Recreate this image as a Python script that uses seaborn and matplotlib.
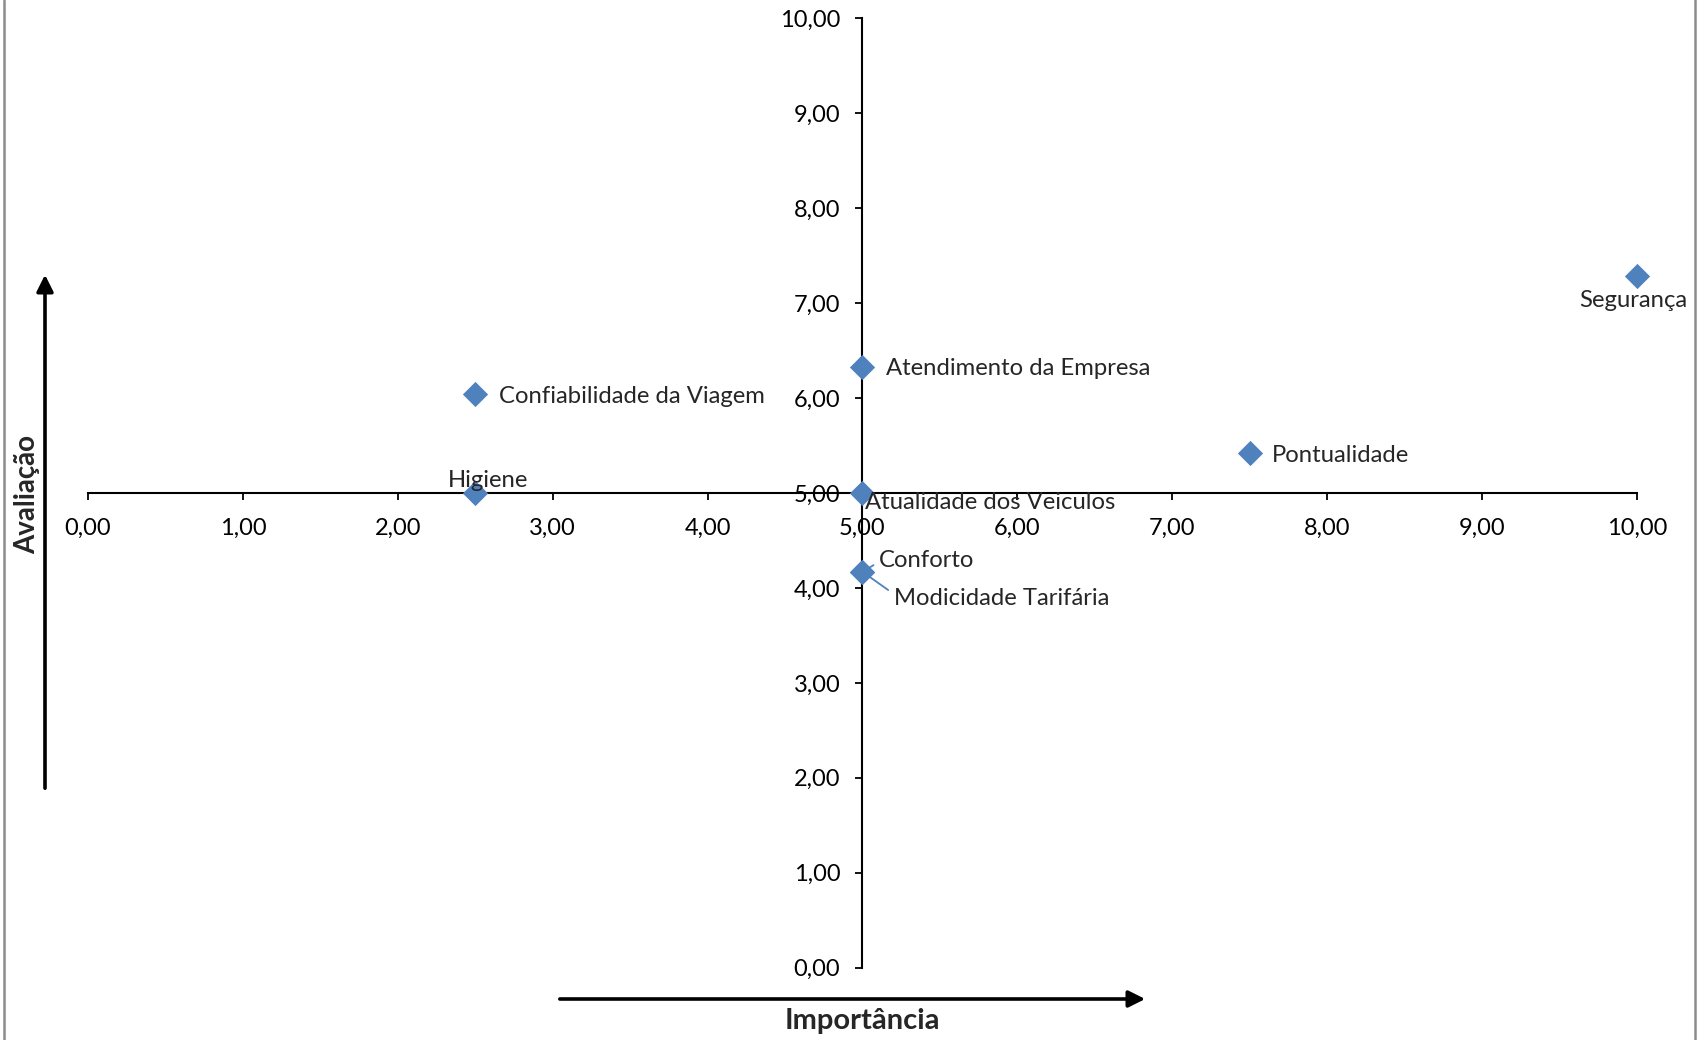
import pandas as pd
import numpy as np
import matplotlib.pyplot as plt
import seaborn as sns
from matplotlib.ticker import FuncFormatter
from matplotlib.lines import Line2D

# data
attributes = ['Segurança', 'Atendimento da Empresa', 'Confiabilidade da Viagem',
              'Pontualidade', 'Higiene', 'Atualidade dos Veiculos',
              'Conforto', 'Modicidade Tarifária']
importancia = [10.0, 5.0, 2.5, 7.5, 2.5, 5.0, 5.0, 5.0]
avaliacao = [7.29, 6.33, 6.04, 5.42, 5.0, 5.0, 4.17, 4.17]
ticks = [0, 1, 2, 3, 4, 5, 6, 7, 8, 9, 10]

df = pd.DataFrame({'attr': attributes, 'imp': importancia, 'aval': avaliacao})

sns.set_style('white')
plt.rcParams['font.family'] = ['Lato', 'DejaVu Sans']

fig = plt.figure(figsize=(17.01, 10.40), dpi=100)
ax = fig.add_axes([0.0517, 0.0696, 0.9107, 0.9127])

blue = '#4F81BD'
fs = 17.2
sns.scatterplot(data=df, x='imp', y='aval', marker='D', s=165,
                color=blue, edgecolor=blue, linewidth=0, ax=ax, zorder=3,
                clip_on=False)

ax.set_xlim(0, 10)
ax.set_ylim(0, 10)
ax.set_xticks(ticks)
ax.set_yticks(ticks)
fmt = FuncFormatter(lambda v, p: f'{v:.2f}'.replace('.', ','))
ax.xaxis.set_major_formatter(fmt)
ax.yaxis.set_major_formatter(fmt)

# axes crossing at (5, 5)
ax.spines['left'].set_position(('data', 5))
ax.spines['bottom'].set_position(('data', 5))
ax.spines['right'].set_visible(False)
ax.spines['top'].set_visible(False)
for sp in ['left', 'bottom']:
    ax.spines[sp].set_linewidth(1.5)
    ax.spines[sp].set_color('black')
ax.tick_params(axis='both', direction='out', length=5, width=1.3,
               labelsize=17, colors='black', bottom=True, left=True)
ax.tick_params(axis='x', pad=13)
ax.tick_params(axis='y', pad=11)
ax.set_xlabel('')
ax.set_ylabel('')

# point labels: (dx, dy in points, ha)
offsets = {
    'Segurança': (-3, -18, 'center'),
    'Atendimento da Empresa': (17, -1.5, 'left'),
    'Confiabilidade da Viagem': (17, -1.5, 'left'),
    'Pontualidade': (16, -1.5, 'left'),
    'Higiene': (9, 9, 'center'),
    'Atualidade dos Veiculos': (1.5, -7, 'left'),
}
for name, x, y in zip(attributes, importancia, avaliacao):
    if name in offsets:
        dx, dy, ha = offsets[name]
        ax.annotate(name, (x, y), xytext=(dx, dy), textcoords='offset points',
                    ha=ha, va='center', fontsize=fs, zorder=4)

ax.annotate('Conforto', (5.0, 4.17), xytext=(12, 8), textcoords='offset points',
            ha='left', va='center', fontsize=fs,
            arrowprops=dict(arrowstyle='-', color=blue, lw=1.3,
                            relpos=(0, 0.45), shrinkA=2, shrinkB=0))
ax.annotate('Modicidade Tarifária', (5.0, 4.17), xytext=(22.5, -19),
            textcoords='offset points', ha='left', va='center', fontsize=fs,
            arrowprops=dict(arrowstyle='-', color=blue, lw=1.3,
                            relpos=(0, 0.7), shrinkA=2, shrinkB=0))

# direction arrows and axis titles
ax.annotate('', xy=(1148 / 1701, 1 - 999 / 1040), xytext=(557 / 1701, 1 - 999 / 1040),
            xycoords='figure fraction', textcoords='figure fraction',
            arrowprops=dict(arrowstyle='-|>', lw=2.6, color='black', mutation_scale=25))
ax.annotate('', xy=(45 / 1701, 1 - 272 / 1040), xytext=(45 / 1701, 1 - 791 / 1040),
            xycoords='figure fraction', textcoords='figure fraction',
            arrowprops=dict(arrowstyle='-|>', lw=2.6, color='black', mutation_scale=25))
fig.text(862 / 1701, 1 - 1021 / 1040, 'Importância', ha='center', va='center',
         fontsize=21, fontweight='bold')
fig.text(27 / 1701, 1 - 494 / 1040, 'Avaliação', ha='center', va='center',
         rotation=90, fontsize=20, fontweight='bold')

# chart frame edges
fig.add_artist(Line2D([4 / 1701, 4 / 1701], [0, 1], color='#8c8c8c', lw=1.8))
fig.add_artist(Line2D([1695 / 1701, 1695 / 1701], [0, 1], color='#8c8c8c', lw=1.8))

fig.savefig('out.png', dpi=100)
